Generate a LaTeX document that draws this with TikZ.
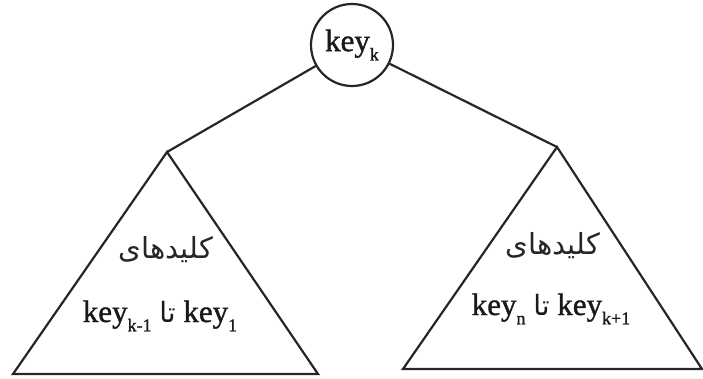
\documentclass[tikz,border=0pt]{standalone}
\usepackage{fontspec}
\setmainfont{Liberation Serif}
\newfontfamily\keyfont[FakeBold=1.2]{Liberation Serif}
\newfontfamily\arabicfont[Script=Arabic]{DejaVu Sans}
\TeXXeTstate=1
% "key" with a lowered index
\newcommand{\keyidx}[2]{key\raisebox{-0.3em}{\fontsize{#1}{#1}\selectfont #2}}
\newcommand{\fa}[1]{{\arabicfont\beginR #1\endR}}
\newcommand{\faword}[1]{{\arabicfont\fontsize{28}{28}\selectfont\beginR #1\endR}}
\begin{document}
\begin{tikzpicture}[x=1pt,y=-1pt,
  edge/.style={draw=black!85, line width=2.2pt},
  rootnode/.style={circle, draw=black!85, line width=2.2pt, minimum size=82pt, inner sep=0pt,
    font=\keyfont\fontsize{31}{31}\selectfont, text=black!90},
  fatext/.style={font=\fontsize{29}{29}\selectfont, inner sep=0pt, text=black!85},
  keytext/.style={font=\keyfont\fontsize{31}{31}\selectfont, inner sep=0pt, text=black!90, anchor=base}]
\useasboundingbox (0,0) rectangle (703,378);

% root key
\node[rootnode] (root) at (352,45) {\keyidx{18}{k}};

% apexes and base corners of the two subtrees
\coordinate (lapex) at (167,152);
\coordinate (lbl) at (13,374);
\coordinate (lbr) at (318,374);
\coordinate (rapex) at (557,147);
\coordinate (rbl) at (403,369);
\coordinate (rbr) at (702,369);

% branches
\draw[edge] (root) -- (lapex);
\draw[edge] (root) -- (rapex);

% subtrees
\draw[edge, line join=miter] (lapex) -- (lbl) -- (lbr) -- cycle;
\draw[edge, line join=miter] (rapex) -- (rbl) -- (rbr) -- cycle;

% labels inside the left subtree
\node[fatext] (lword) at (166,250) {\fa{کلیدهای}};
\node[keytext] (lrange) at (160,322) {\keyidx{18}{k-1}\ \faword{تا}\ \keyidx{18}{1}};

% labels inside the right subtree
\node[fatext] (rword) at (553,246) {\fa{کلیدهای}};
\node[keytext] (rrange) at (551,315) {\keyidx{18}{n}\ \faword{تا}\ \keyidx{18}{k+1}};
\end{tikzpicture}
\end{document}
